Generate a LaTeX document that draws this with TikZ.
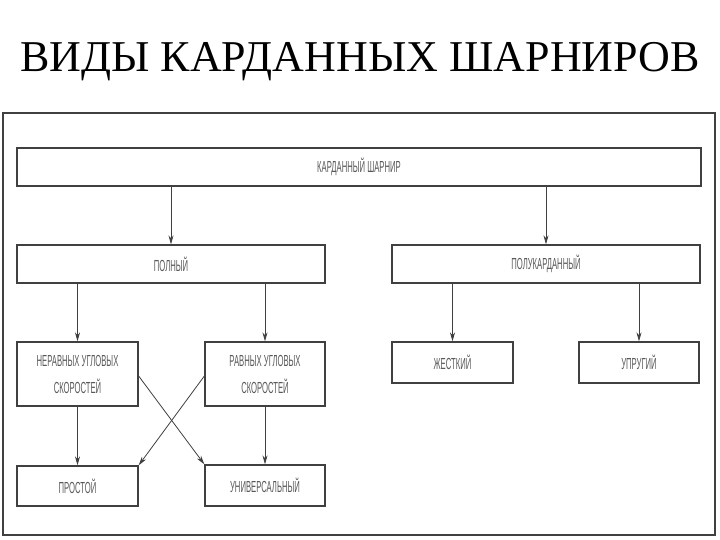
\documentclass[tikz,border=0pt]{standalone}
\usepackage{fontspec}
\setmainfont{Liberation Serif}
\newfontfamily\boxfont[FakeStretch=0.48]{Liberation Sans}
\usetikzlibrary{arrows.meta}
\definecolor{ln}{gray}{0.25}
\definecolor{tx}{gray}{0.35}
\tikzset{
  box/.style={draw=ln, line width=1.3pt, fill=white, inner sep=0pt, text=tx,
    font=\boxfont\fontsize{16}{27}\selectfont, align=center},
  conn/.style={draw=ln, line width=0.8pt, -{Stealth[length=9pt,width=5pt]}}
}
\begin{document}
\begin{tikzpicture}[x=1pt,y=-1pt]
\useasboundingbox (0,0) rectangle (720,540);
\fill[white] (0,0) rectangle (720,540);
\node[font=\fontsize{44}{50}\selectfont, anchor=base] (title) at (360,72) {ВИДЫ КАРДАННЫХ ШАРНИРОВ};
\draw[ln, line width=1.5pt] (3,113) rectangle (715,535);
% top level
\node[box, minimum width=684pt, minimum height=38pt] (kard) at (359,167) {КАРДАННЫЙ ШАРНИР};
% second level
\node[box, minimum width=308pt, minimum height=38pt] (poln) at (171,264) {ПОЛНЫЙ};
\node[box, minimum width=308pt, minimum height=38pt] (polu) at (546,264) {ПОЛУКАРДАННЫЙ};
% third level
\node[box, minimum width=121pt, minimum height=64pt] (nerav) at (77.5,374) {НЕРАВНЫХ УГЛОВЫХ\\СКОРОСТЕЙ};
\node[box, minimum width=120pt, minimum height=64pt] (rav) at (265,374) {РАВНЫХ УГЛОВЫХ\\СКОРОСТЕЙ};
\node[box, minimum width=121pt, minimum height=41pt] (zhest) at (452.5,362.5) {ЖЕСТКИЙ};
\node[box, minimum width=120pt, minimum height=41pt] (upr) at (639,362.5) {УПРУГИЙ};
% fourth level
\node[box, minimum width=121pt, minimum height=40pt] (prost) at (77.5,486) {ПРОСТОЙ};
\node[box, minimum width=120pt, minimum height=41pt] (univ) at (265,485.5) {УНИВЕРСАЛЬНЫЙ};
% connectors
\draw[conn] (kard.south -| poln) -- (poln.north);
\draw[conn] (kard.south -| polu) -- (polu.north);
\draw[conn] (poln.south -| nerav) -- (nerav.north);
\draw[conn] (poln.south -| rav) -- (rav.north);
\draw[conn] (polu.south -| zhest) -- (zhest.north);
\draw[conn] (polu.south -| upr) -- (upr.north);
\draw[conn] (nerav.south) -- (prost.north);
\draw[conn] (rav.south) -- (univ.north);
\draw[conn] ([yshift=-2pt]nerav.east) -- (univ.north west);
\draw[conn] ([yshift=-2pt]rav.west) -- (prost.north east);
\end{tikzpicture}
\end{document}
